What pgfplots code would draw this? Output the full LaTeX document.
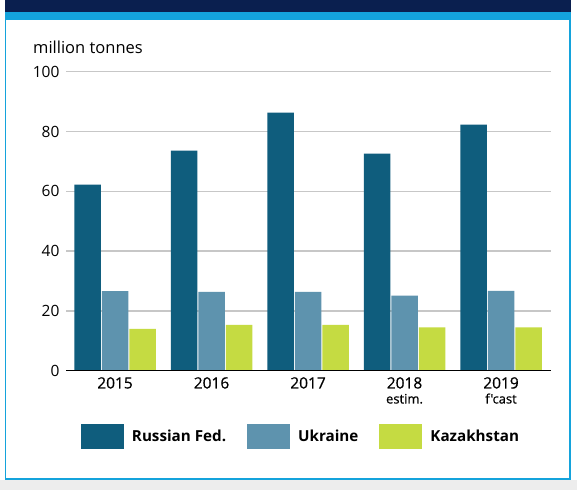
\documentclass[border=0pt]{standalone}
\usepackage{pgfplots}
\pgfplotsset{compat=1.18}
\usepackage{fontspec}
\setmainfont{Open Sans}
\newfontfamily\semib[FakeBold=0.6]{Open Sans}
\definecolor{navy}{HTML}{0A1F4F}
\definecolor{lblue}{HTML}{14A3DC}
\definecolor{rus}{HTML}{0F5D7D}
\definecolor{ukr}{HTML}{5E93AE}
\definecolor{kaz}{HTML}{C5DB42}
\begin{document}
\begin{tikzpicture}
\useasboundingbox (0,0) rectangle (577pt,490pt);
\fill[white] (0,0) rectangle (577pt,490pt);
\fill[black!7] (0,0) rectangle (577pt,10pt);
\fill[navy] (4.5pt,478pt) rectangle (571pt,490pt);
\fill[lblue] (4.5pt,470pt) rectangle (571pt,478pt);
\draw[lblue, line width=1.2pt] (5.5pt,470pt) -- (5.5pt,11pt) -- (570pt,11pt) -- (570pt,470pt);
\node[anchor=base west, inner sep=0pt, font=\fontsize{16.5}{19}\selectfont] at (33pt,436pt) {million tonnes};
\begin{axis}[
  at={(66pt,119.3pt)}, anchor=south west,
  scale only axis, width=485pt, height=299pt,
  xmin=-0.508, xmax=4.518, ymin=0, ymax=100,
  ybar=1pt, bar width=26.5pt,
  axis line style={draw=none},
  ytick={0,20,40,60,80,100},
  ymajorgrids, grid style={black!22, line width=1.4pt},
  major tick length=0pt,
  /pgf/number format/assume math mode=true,
  yticklabel style={font=\fontsize{15.5}{18}\selectfont, xshift=-3pt},
  xtick={0,1,2,3,4},
  xticklabels={2015,2016,2017,{2018\\[-2pt]{\fontsize{13}{14}\selectfont estim.}},{2019\\[-2pt]{\fontsize{13}{14}\selectfont f'cast}}},
  xticklabel style={font=\semib\fontsize{15.5}{17}\selectfont, align=center, anchor=north, yshift=-3pt},
  legend columns=3,
  legend image code/.code={\fill[#1] (0pt,-12.5pt) rectangle (43pt,12.5pt);},
  legend style={draw=none, fill=none, at={(0.4825,-0.22)}, anchor=center,
    font=\bfseries\fontsize{15.2}{18}\selectfont,
    nodes={inner sep=0pt},
    /tikz/every odd column/.style={column sep=8pt},
    /tikz/every even column/.style={column sep=21pt}},
]
\addplot[draw=none, fill=rus] coordinates {(0,62.2) (1,73.6) (2,86.3) (3,72.6) (4,82.3)};
\addplot[draw=none, fill=ukr] coordinates {(0,26.6) (1,26.4) (2,26.4) (3,25.1) (4,26.7)};
\addplot[draw=none, fill=kaz] coordinates {(0,14.0) (1,15.3) (2,15.3) (3,14.5) (4,14.5)};
\legend{Russian Fed.,Ukraine,Kazakhstan}
\draw[black, line width=2pt] (axis cs:-0.508,0) -- (axis cs:4.518,0);
\end{axis}
\end{tikzpicture}
\end{document}
